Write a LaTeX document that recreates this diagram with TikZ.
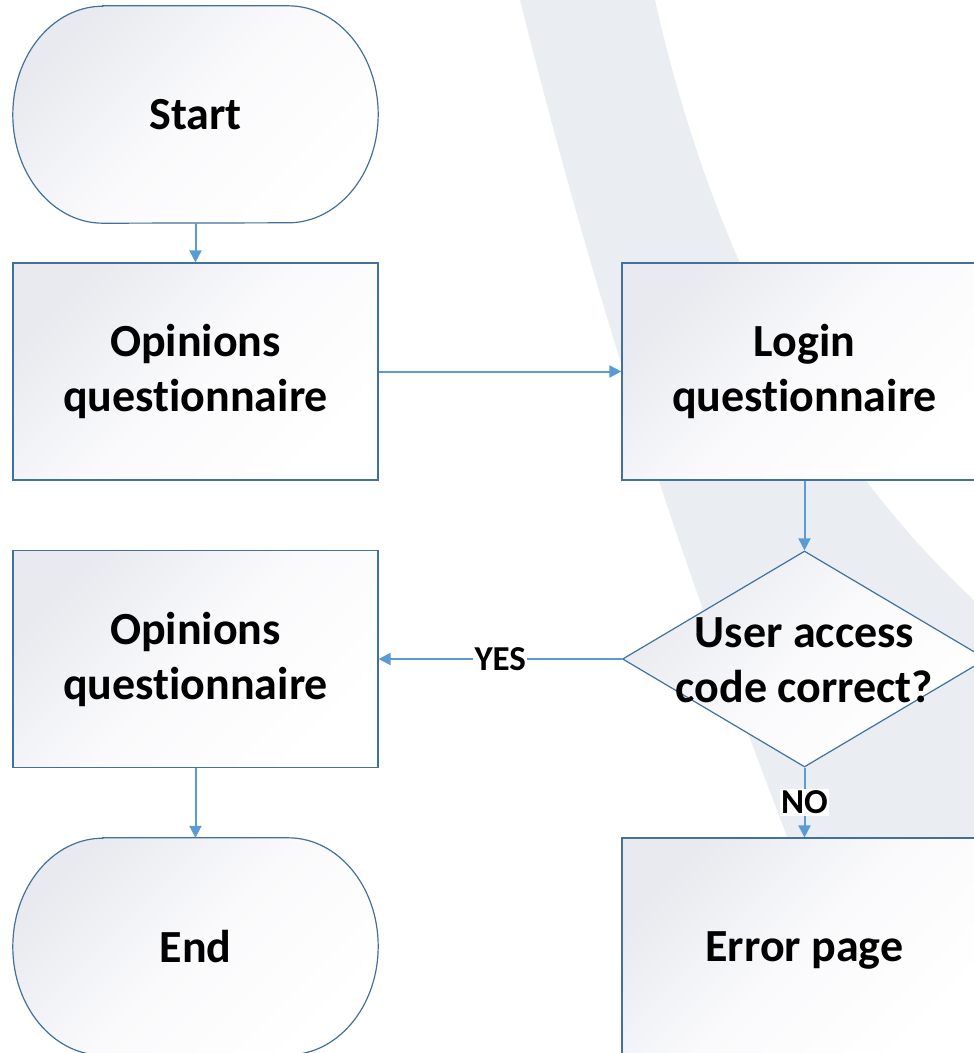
\documentclass[tikz,border=0pt]{standalone}
\usepackage{fontspec}
\setmainfont{Carlito}[Ligatures=NoCommon]
\usetikzlibrary{shapes.geometric,arrows.meta,backgrounds}

\definecolor{edgeblue}{HTML}{41719C}
\definecolor{flowblue}{HTML}{5B9BD5}
\definecolor{shadegray}{HTML}{E8EAEF}
\definecolor{shademid}{HTML}{FAFAFC}
\definecolor{swoosh}{HTML}{EAEEF2}

\begin{document}
\begin{tikzpicture}[x=1pt,y=-1pt,
  shadefill/.style={draw=edgeblue, line width=1.2pt,
    top color=shadegray, bottom color=white, middle color=shademid,
    shading angle=45},
  labelfont/.style={font=\fontsize{46}{55}\selectfont\bfseries},
  box/.style={shadefill, rectangle, inner sep=0pt, align=center, labelfont,
    minimum width=365pt, minimum height=217pt},
  term/.style={rectangle, inner sep=0pt, align=center, labelfont,
    minimum width=365pt, minimum height=217pt},
  decision/.style={shadefill, diamond, inner sep=0pt,
    minimum width=364pt, minimum height=216pt},
  decisiontext/.style={align=center, labelfont},
  flow/.style={draw=flowblue, line width=2pt, -{Triangle[length=12pt,width=12pt]}},
  lbl/.style={fill=white, inner sep=1.5pt, font=\fontsize{35}{35}\selectfont\bfseries}
]
% page frame
\useasboundingbox (0,0) rectangle (974,1053);
\clip (0,0) rectangle (974,1053);

% nodes
\node[term] (start) at (195.5,114.5) {Start};
\node[box] (op1) at (195.5,371.5) {Opinions\\questionnaire};
\node[box] (login) at (804.5,371.5) {Login\\questionnaire};
\node[decision] (dec) at (804.5,659) {};
\node[decisiontext] (dectext) at (804.5,660.5) {User access\\code correct?};
\node[box] (op2) at (195.5,659) {Opinions\\questionnaire};
\node[term] (end) at (195.5,946.5) {End};
\node[box, text depth=0pt] (err) at (804.5,946.5) {Error page};

\begin{scope}[on background layer]
  \fill[white] (0,0) rectangle (974,1053);
  % pale background band
  \fill[swoosh] (520,0) .. controls (600,320) and (680,560) .. (800,870)
    -- (974,870) -- (974,600)
    .. controls (790,430) and (700,200) .. (655,0) -- cycle;
  % terminator outlines with elliptic ends
  \foreach \t in {start,end}{
    \path[shadefill] ([xshift=90pt]\t.north west) -- ([xshift=-90pt]\t.north east)
      arc[start angle=90, end angle=-90, x radius=90pt, y radius=108.5pt]
      -- ([xshift=90pt]\t.south west)
      arc[start angle=270, end angle=90, x radius=90pt, y radius=108.5pt]
      -- cycle;
  }
\end{scope}

% connectors
\draw[flow] (start) -- (op1);
\draw[flow] (op1) -- (login);
\draw[flow] (login) -- (dec);
\draw[flow] (dec.west) -- node[lbl] {YES} (op2.east);
\draw[flow] (op2) -- (end);
\draw[flow] (dec.south) -- node[lbl] {NO} (err.north);
\end{tikzpicture}
\end{document}
